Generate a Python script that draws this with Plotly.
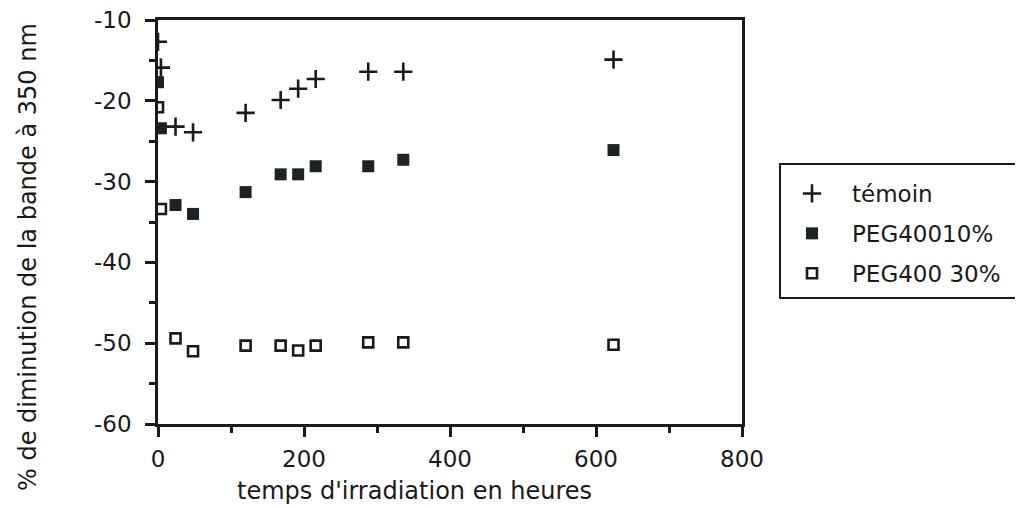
import plotly.graph_objects as go

# Data
temps_temoin = [0, 4, 24, 48, 120, 168, 192, 216, 288, 336, 624]
temoin = [-12.7, -15.9, -23.2, -23.9, -21.5, -19.9, -18.5, -17.3, -16.4, -16.4, -14.9]

temps_peg10 = [0, 4, 24, 48, 120, 168, 192, 216, 288, 336, 624]
peg10 = [-17.7, -23.4, -32.9, -34.0, -31.3, -29.1, -29.1, -28.1, -28.1, -27.3, -26.1]

temps_peg30 = [0, 4, 24, 48, 120, 168, 192, 216, 288, 336, 624]
peg30 = [-20.8, -33.4, -49.4, -51.0, -50.3, -50.3, -50.9, -50.3, -49.9, -49.9, -50.2]

series_names = ["témoin", "PEG40010%", "PEG400 30%"]
x_ticks = [0, 200, 400, 600, 800]
y_ticks = [-10, -20, -30, -40, -50, -60]

FONT = "DejaVu Sans"
INK = "#1a1a1a"

fig = go.Figure()
fig.add_trace(go.Scatter(
    x=temps_temoin, y=temoin, mode="markers", name=series_names[0], legendgroup="a",
    marker=dict(symbol="cross-thin", size=13, line=dict(width=2.6, color=INK), color=INK)))
fig.add_trace(go.Scatter(
    x=temps_peg10, y=peg10, mode="markers", name=series_names[1], legendgroup="b",
    marker=dict(symbol="square", size=12, color="#1c241e", line=dict(width=0))))
fig.add_trace(go.Scatter(
    x=temps_peg30, y=peg30, mode="markers", name=series_names[2], legendgroup="c",
    marker=dict(symbol="square-open", size=10, color=INK, line=dict(width=2.6, color=INK))))

# the page body has an 8px margin: target pixel positions are shifted by it
OFF = 8
W, H = 1023, 508
L, R, T, B = 158 - OFF, 742 - OFF, 20 - OFF, 424 - OFF
pw, ph = R - L, B - T

axis_common = dict(
    showline=True, linecolor=INK, linewidth=2.5, mirror=True,
    ticks="outside", ticklen=10, tickwidth=2.5, tickcolor=INK,
    showgrid=False, zeroline=False, automargin=False,
    ticklabeloverflow="allow",
    tickfont=dict(family=FONT, size=23, color=INK),
)

fig.update_xaxes(range=[0, 800], tickvals=x_ticks, ticktext=[str(v) for v in x_ticks],
                 ticklabelstandoff=3,
                 minor=dict(dtick=100, tick0=0, ticks="outside", ticklen=6, tickwidth=2.5,
                            tickcolor=INK, showgrid=False),
                 **axis_common)
fig.update_yaxes(range=[-60, -10], tickvals=y_ticks, ticktext=[str(v) for v in y_ticks],
                 ticklabelstandoff=9,
                 minor=dict(dtick=5, tick0=0, ticks="outside", ticklen=6, tickwidth=2.5,
                            tickcolor=INK, showgrid=False),
                 **axis_common)

# legend frame (reference frame runs off the right edge of the picture)
box_l, box_t, box_b = 780 - OFF, 164 - OFF, 298 - OFF

fig.update_layout(
    width=W, height=H,
    margin=dict(l=L, r=W - R, t=T, b=H - B, pad=0, autoexpand=False),
    paper_bgcolor="white", plot_bgcolor="white",
    font=dict(family=FONT, size=23, color=INK),
    showlegend=True,
    legend=dict(
        x=(box_l - 8 - L) / pw, y=(B - box_t - 8) / ph, xanchor="left", yanchor="top",
        borderwidth=0, bgcolor="rgba(0,0,0,0)",
        font=dict(family=FONT, size=23, color=INK),
        tracegroupgap=7, itemwidth=70,
    ),
    shapes=[
        dict(type="rect", xref="paper", yref="paper",
             x0=(box_l - L) / pw, x1=(W + 10 - L) / pw,
             y0=(B - box_b) / ph, y1=(B - box_t) / ph,
             line=dict(color=INK, width=2), fillcolor="rgba(0,0,0,0)", layer="above"),
    ],
    annotations=[
        dict(text="temps d'irradiation en heures", xref="paper", yref="paper",
             x=(414 - OFF - L) / pw, y=(B - (491 - OFF)) / ph, xanchor="center", yanchor="middle",
             showarrow=False, font=dict(family=FONT, size=24, color=INK)),
        dict(text="% de diminution de la bande à 350 nm", xref="paper", yref="paper",
             x=(28 - OFF - L) / pw, y=(B - (257 - OFF)) / ph, xanchor="center", yanchor="middle",
             textangle=-90, showarrow=False, font=dict(family=FONT, size=24, color=INK)),
    ],
)

fig.write_html("out.html")
